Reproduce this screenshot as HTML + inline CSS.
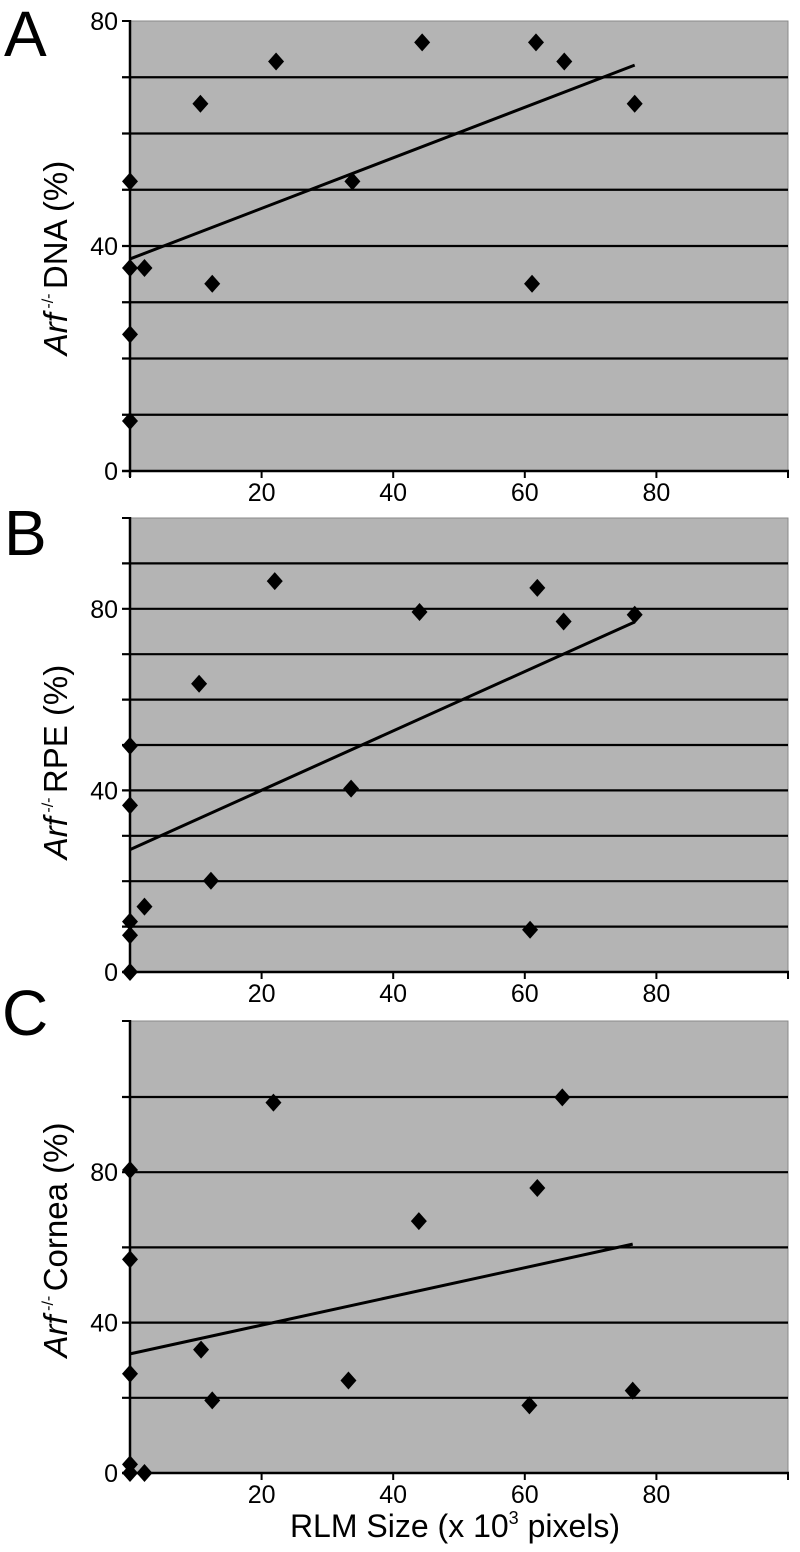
<!DOCTYPE html>
<html><head><meta charset="utf-8"><style>
body{margin:0;background:#fff;}
svg{display:block;font-family:"Liberation Sans",Arial,sans-serif;}
</style></head><body>
<svg id="fig" width="800" height="1552" viewBox="0 0 800 1552" xmlns="http://www.w3.org/2000/svg"></svg>
<script>
// shared x data (RLM size, x10^3 pixels)
const xA = [0,0,0,0,2.2,10.7,12.5,22.2,33.8,44.4,61.1,61.7,66,76.7];
const yA = [51.5,36.1,24.3,8.9,36.1,65.3,33.3,72.8,51.5,76.2,33.3,76.2,72.8,65.3];
const xB = [0,0,0,0,0,2.2,10.5,12.3,22,33.6,44,60.8,61.9,65.9,76.7];
const yB = [49.8,36.7,11.1,8.1,0,14.4,63.5,20.1,86.1,40.4,79.3,9.3,84.6,77.2,78.7];
const xC = [0,0,0,0,0,2.2,10.8,12.5,21.8,33.2,43.9,60.7,61.9,65.7,76.4];
const yC = [80.6,56.8,26.4,2.3,0,0,32.8,19.3,98.5,24.6,67,18,75.8,99.9,21.9];
const xTicks = [20,40,60,80];
const yTicksA = [0,40,80];
const yTicksB = [0,40,80];
const yTicksC = [0,40,80];

const NS="http://www.w3.org/2000/svg";
const svg=document.getElementById('fig');
function mk(tag,attrs,parent){const e=document.createElementNS(NS,tag);for(const k in attrs)e.setAttribute(k,attrs[k]);(parent||svg).appendChild(e);return e;}

function panel(cfg){
  const g=mk('g',{});
  
  
  const L=130,R=788;
  const sx=v=>L+(R-L)*v/100;
  const sy=v=>cfg.y0+(cfg.y100-cfg.y0)*v/100;
  const top=cfg.top, bot=cfg.y0;
  const bg=mk('rect',{x:L,y:top,width:R-L,height:bot-top,fill:'#b4b4b4',stroke:'#8a8a8a','stroke-width':1},g);
  
  
  for(let v=cfg.gstep; sy(v)>top+3; v+=cfg.gstep){
    const gl=mk('line',{x1:L-8,x2:R,y1:sy(v),y2:sy(v),stroke:'#000','stroke-width':2.2},g);
    
    
  }
  const ya=mk('line',{x1:L,x2:L,y1:top-1,y2:bot+6,stroke:'#000','stroke-width':2.5},g);
  
  
  mk('line',{x1:L-8,x2:L,y1:top,y2:top,stroke:'#000','stroke-width':2},g);
  mk('line',{x1:L-8,x2:L,y1:bot,y2:bot,stroke:'#000','stroke-width':2},g);
  const xa=mk('line',{x1:L-8,x2:R+1,y1:bot,y2:bot,stroke:'#000','stroke-width':2.5},g);
  
  
  [0].concat(xTicks).concat([100]).forEach(v=>{mk('line',{x1:sx(v),x2:sx(v),y1:bot,y2:bot+7,stroke:'#000','stroke-width':2},g);});
  xTicks.forEach(v=>{
    const t=mk('text',{x:sx(v),y:bot+30,'font-size':25,'text-anchor':'middle'},g);
    t.textContent=v;
    
    
  });
  cfg.yt.forEach(v=>{
    const t=mk('text',{x:L-12,y:sy(v)+9,'font-size':25,'text-anchor':'end'},g);
    t.textContent=v;
    
    
  });
  const n=cfg.xs.length;let mx=0,my=0;
  for(let i=0;i<n;i++){mx+=cfg.xs[i];my+=cfg.ys[i];}mx/=n;my/=n;
  let sxy=0,sxx=0;for(let i=0;i<n;i++){sxy+=(cfg.xs[i]-mx)*(cfg.ys[i]-my);sxx+=(cfg.xs[i]-mx)**2;}
  const b=sxy/sxx,a=my-b*mx;const xmax=Math.max(...cfg.xs);
  const tl=mk('line',{x1:sx(0),y1:sy(a),x2:sx(xmax),y2:sy(a+b*xmax),stroke:'#000','stroke-width':3},g);
  
  
  for(let i=0;i<n;i++){
    const cx=sx(cfg.xs[i]),cy=sy(cfg.ys[i]);
    const p=mk('path',{d:`M${cx} ${cy-9}L${cx+8} ${cy}L${cx} ${cy+9}L${cx-8} ${cy}Z`,fill:'#000'},g);
    
    
  }
  const lt=mk('text',{x:cfg.lx,y:cfg.ly,'font-size':64},g);
  lt.textContent=cfg.letter;
  
  
  const yt=mk('text',{transform:`translate(67,${cfg.tc}) rotate(-90)`,'font-size':33,'text-anchor':'middle'},g);
  
  
  const s1=mk('tspan',{'font-style':'italic'},yt);s1.textContent='Arf';
  const s2=mk('tspan',{'font-size':16,dy:-14},yt);s2.textContent=' -/- ';
  const s3=mk('tspan',{dy:14},yt);s3.textContent=' '+cfg.title;
}
panel({name:'panel-a',xs:xA,ys:yA,y0:471,y100:471-562.5,top:21,gstep:10,yt:yTicksA,letter:'A',lx:4,ly:56,tc:258,title:'DNA (%)'});
panel({name:'panel-b',xs:xB,ys:yB,y0:972,y100:518,top:518,gstep:10,yt:yTicksB,letter:'B',lx:4,ly:555,tc:762,title:'RPE (%)'});
panel({name:'panel-c',xs:xC,ys:yC,y0:1473,y100:1097,top:1021,gstep:20,yt:yTicksC,letter:'C',lx:2,ly:1035,tc:1240,title:'Cornea (%)'});
const xt=mk('text',{x:455,y:1537,'font-size':32,'text-anchor':'middle'});


const a1=mk('tspan',{},xt);a1.textContent='RLM Size (x 10';
const a2=mk('tspan',{'font-size':18,dy:-13},xt);a2.textContent='3';
const a3=mk('tspan',{dy:13},xt);a3.textContent=' pixels)';
</script>
</body></html>
